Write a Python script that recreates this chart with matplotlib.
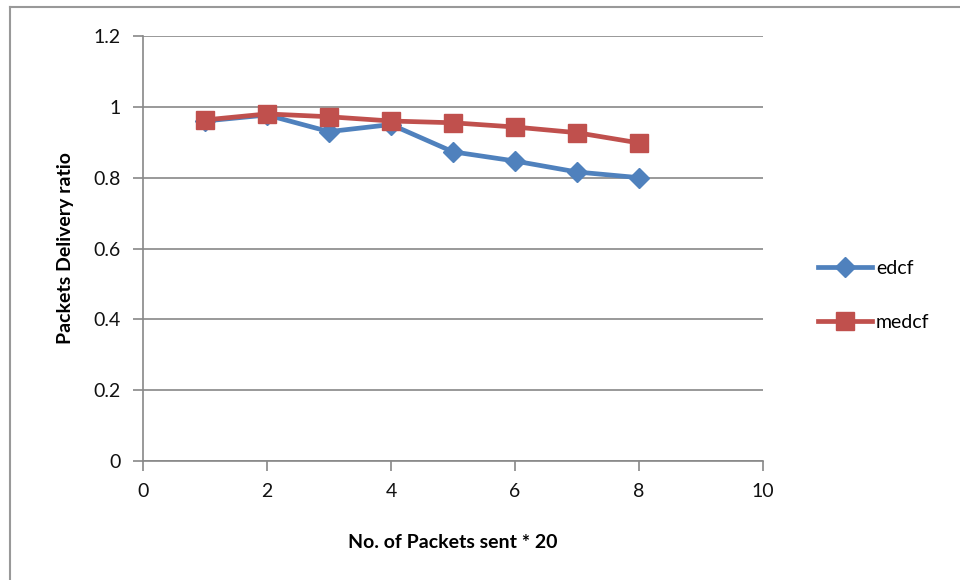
import matplotlib.pyplot as plt
from matplotlib.lines import Line2D

# ---- data ----
paquets = [1, 2, 3, 4, 5, 6, 7, 8]
edcf = [0.96, 0.977, 0.93, 0.95, 0.873, 0.847, 0.816, 0.80]
medcf = [0.963, 0.98, 0.972, 0.96, 0.955, 0.943, 0.927, 0.898]
x_ticks = [0, 2, 4, 6, 8, 10]
y_ticks = [0, 0.2, 0.4, 0.6, 0.8, 1, 1.2]
y_labels = ["0", "0.2", "0.4", "0.6", "0.8", "1", "1.2"]

bleu = "#4F81BD"
rouge = "#C0504D"
gris = "#888888"

plt.rcParams['font.family'] = ['Lato', 'DejaVu Sans']

fig = plt.figure(figsize=(9.6, 5.8), dpi=100)
ax = fig.add_axes([143/960, 119/580, 620/960, 425/580])

ax.plot(paquets, edcf, color=bleu, lw=3.4, marker='D', markersize=10,
        label='edcf', zorder=3)
ax.plot(paquets, medcf, color=rouge, lw=3.4, marker='s', markersize=12.5,
        label='medcf', zorder=4)

ax.set_xlim(0, 10)
ax.set_ylim(0, 1.2)
ax.set_xticks(x_ticks)
ax.set_yticks(y_ticks)
ax.set_yticklabels(y_labels)
ax.grid(axis='y', color=gris, lw=1.2)
ax.set_axisbelow(True)
for s in ['top', 'right']:
    ax.spines[s].set_visible(False)
for s in ['left', 'bottom']:
    ax.spines[s].set_color(gris)
    ax.spines[s].set_linewidth(1.2)
ax.tick_params(axis='both', colors=gris, length=7, width=1.2,
               labelsize=14, labelcolor='#111111')
ax.tick_params(axis='x', pad=9)
ax.tick_params(axis='y', pad=9)

ax.set_xlabel("No. of Packets sent * 20", fontsize=14, fontweight='bold',
              labelpad=24)
ax.set_ylabel("Packets Delivery ratio", fontsize=14, fontweight='bold',
              labelpad=14)

ax.legend(loc='center left', bbox_to_anchor=(1.06, 0.39), frameon=False,
          fontsize=14, handlelength=2.8, labelspacing=1.9, handletextpad=0.2)

# cadre extérieur
fig.add_artist(Line2D([10/960, 10/960], [0, 1 - 7/580], color='#999999', lw=1.5))
fig.add_artist(Line2D([10/960, 1], [1 - 7/580, 1 - 7/580], color='#999999', lw=1.5))

fig.savefig("out.png", dpi=100)
